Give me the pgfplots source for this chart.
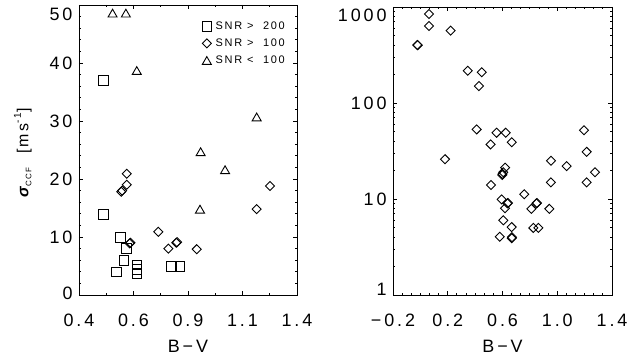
\documentclass[border=0pt]{standalone}
\usepackage{fontspec}
\setmainfont[LetterSpace=16]{Liberation Sans}
\usepackage{pgfplots}
\pgfplotsset{compat=1.18}
\newcommand{\dn}[2]{\raisebox{#1}[\height][\depth]{#2}}
\pgfplotsset{
  idl/.style={
    scale only axis, anchor=south west,
    axis line style={line width=0.9bp},
    every tick/.style={line width=0.8bp, black},
    major tick length=4bp, minor tick length=2bp,
    tick align=inside,
    tick label style={font=\fontsize{18}{21}\selectfont},
    xticklabel style={anchor=base, yshift=-31bp},
    yticklabel style={anchor=east, xshift=-3bp},
    xlabel style={at={(axis description cs:0.5,-0.2)}, anchor=base, font=\fontsize{18}{21}\selectfont},
    clip mode=individual,
  },
  sq/.style={only marks, mark=square, mark size=4.8bp, mark options={line width=0.9bp, black}},
  dm/.style={only marks, mark=square, mark size=3.2bp, mark options={line width=0.9bp, black, rotate=45}},
  tr/.style={only marks, mark=triangle, mark size=5.2bp, mark options={line width=0.9bp, black, yshift=-1.3bp}},
}
\begin{document}
\begin{tikzpicture}
\path[use as bounding box, fill=white] (0,0) rectangle (627bp,361bp);
\begin{axis}[idl,
  at={(79bp,66bp)}, width=218bp, height=290bp,
  xmin=0.4, xmax=1.4, ymin=0, ymax=50,
  xtick={0.4,0.65,0.9,1.15,1.4}, xticklabels={0.4,0.6,0.9,1.1,1.4},
  minor x tick num=1,
  ytick={0,10,20,30,40,50}, yticklabels={\dn{2bp}{0},10,20,30,40,\dn{-9bp}{50}},
  minor y tick num=4,
  xlabel={B−V},
  ylabel={{\bfseries\itshape σ}\raisebox{-0.35ex}{\fontsize{8}{9}\selectfont CCF}\ \ [ms\raisebox{0.9ex}{\fontsize{10}{11}\selectfont -1}]},
  ylabel style={at={(axis description cs:-0.232,0.49)}, anchor=base, font=\fontsize{16}{19}\selectfont},
  legend style={draw=none, fill=none, at={(0.968,0.957)}, anchor=north east,
    font=\fontsize{11}{13}\selectfont, row sep=4bp, column sep=2bp},
  legend cell align=left,
]
\addplot[sq] coordinates {
(0.511,37) (0.513,13.9) (0.591,9.9) (0.619,8.0) (0.606,6.0) (0.573,4.0)
(0.665,5.2) (0.665,4.4) (0.665,3.7) (0.825,4.9) (0.863,4.9)
};
\addlegendentry{SNR > \ 200}
\addplot[dm] coordinates {
(0.619,20.9) (0.619,19.0) (0.594,17.8) (0.598,18.0) (1.276,18.8) (1.215,14.8)
(0.764,10.9) (0.632,8.9) (0.636,9.0) (0.846,9.0) (0.850,9.1) (0.810,8.0) (0.940,7.9)
};
\addlegendentry{SNR > \ 100}
\addplot[tr] coordinates {
(0.554,48.6) (0.615,48.6) (0.665,38.7) (1.215,30.7) (0.958,24.7) (1.070,21.6) (0.955,14.8)
};
\addlegendentry{SNR < \ 100}
\end{axis}
\begin{axis}[idl,
  at={(393bp,66bp)}, width=219bp, height=288bp,
  xmin=-0.2, xmax=1.4, ymode=log, ymin=1, ymax=1000,
  xtick={-0.2,0.2,0.6,1.0,1.4}, xticklabels={−0.2,0.2,0.6,1.0,1.4},
  minor x tick num=5,
  ytick={1,10,100,1000}, yticklabels={\dn{6bp}{1},10,100,\dn{-8bp}{1000}},
  xlabel={B−V},
]
\addplot[dm] coordinates {
(0.063,845) (0.063,635) (-0.022,402) (-0.020,400) (0.221,567)
(0.346,217) (0.448,209) (0.428,150) (0.411,53) (1.195,52) (0.180,26)
(0.557,49) (0.623,49) (0.513,37) (0.667,39) (1.215,31) (0.954,25) (1.069,22)
(1.276,19) (0.619,21.2) (0.606,19.0) (0.598,17.8) (0.600,18.2)
(0.954,14.9) (1.215,14.9) (0.516,14.0) (0.759,11.2)
(0.594,9.9) (0.636,9.0) (0.640,9.1) (0.848,9.0) (0.852,9.1)
(0.618,8.0) (0.811,7.9) (0.942,7.9) (0.606,6.0)
(0.667,5.1) (0.825,5.0) (0.862,5.0) (0.580,4.05) (0.667,3.9) (0.669,4.0)
};
\end{axis}
\end{tikzpicture}
\end{document}
